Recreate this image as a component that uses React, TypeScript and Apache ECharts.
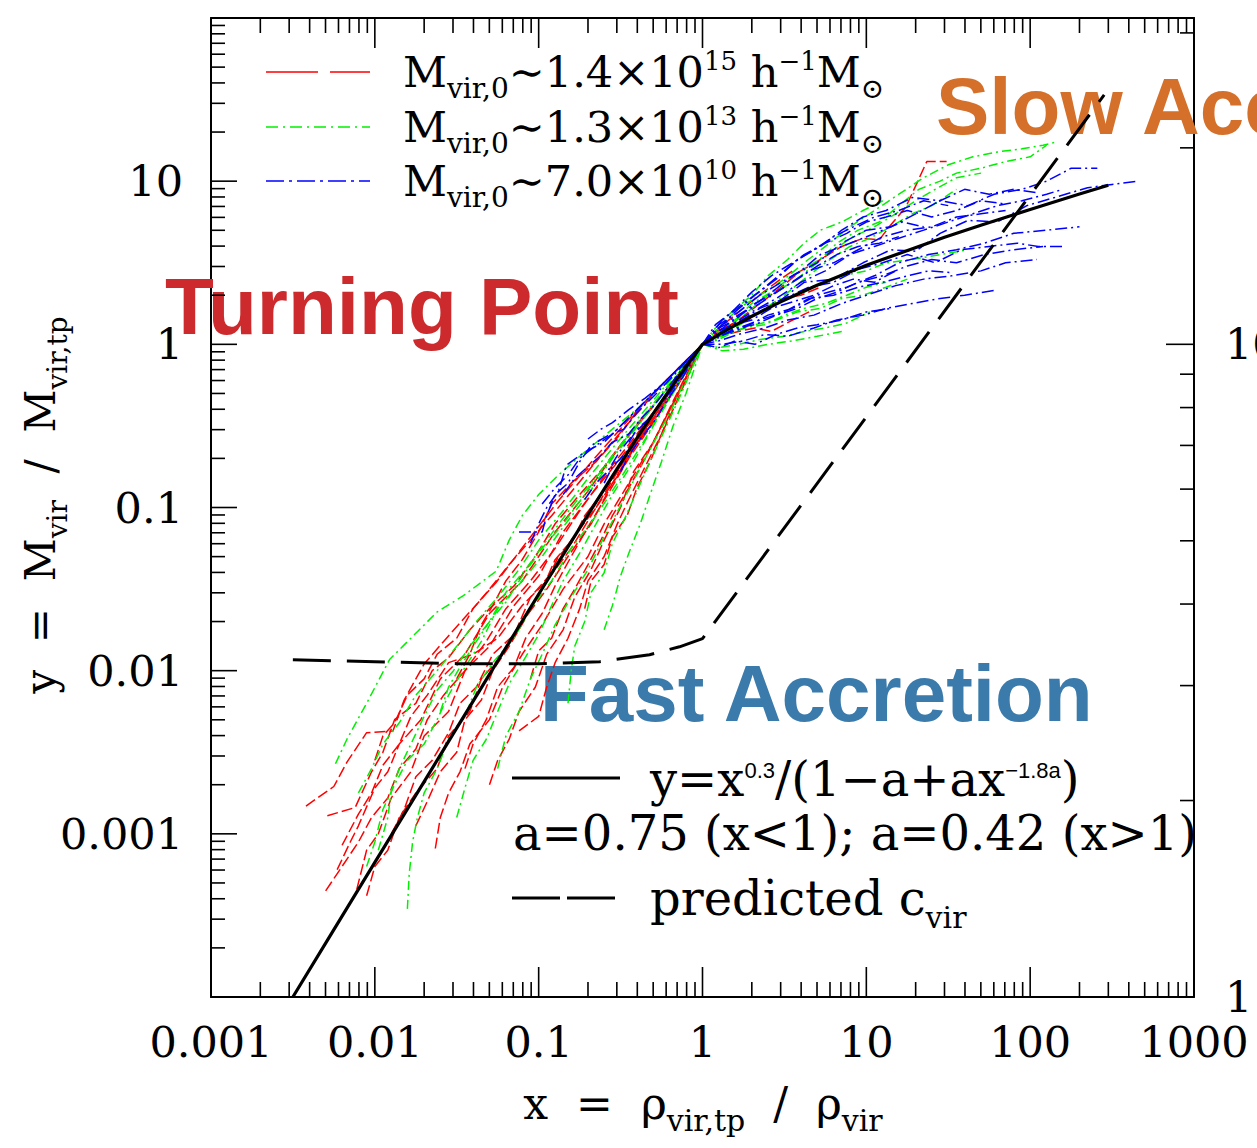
import React, { useEffect, useRef } from "react";
import * as echarts from "echarts";

// ---------- axes ----------
const X_MIN = 0.001;
const X_MAX = 1000;
const Y_MIN = 0.0001;
const Y_MAX = 100;
const R_MIN = 1;
const R_MAX = 31.62;
const X_TICK_LABELS = ["0.001", "0.01", "0.1", "1", "10", "100", "1000"];
const Y_TICK_LABELS = ["0.001", "0.01", "0.1", "1", "10"];
const R_TICK_LABELS = ["1", "10"];
const X_DECADES = [0.001, 0.01, 0.1, 1, 10, 100];
const Y_DECADES = [0.0001, 0.001, 0.01, 0.1, 1, 10];
const R_DECADES = [1, 10];
const MINOR_STEPS = [2, 3, 4, 5, 6, 7, 8, 9];

// ---------- fit curve y = x^0.3/(1-a+a x^-1.8a) ----------
const FIT_CURVE = [
  [0.00316, 0.0001], [0.005, 0.000213], [0.01, 0.000668], [0.02, 0.00209], [0.03, 0.00408],
  [0.05, 0.00946], [0.1, 0.0294], [0.15, 0.0568], [0.2, 0.0903], [0.3, 0.172], [0.4, 0.268],
  [0.5, 0.376], [0.7, 0.614], [0.85, 0.804], [1, 1], [1.3, 1.171], [1.6, 1.317], [2, 1.486],
  [3, 1.822], [5, 2.301], [10, 3.052], [30, 4.53], [50, 5.373], [100, 6.71], [200, 8.34], [300, 9.45],
];

// ---------- predicted c_vir (dashed) ----------
const PREDICTED_CVIR = [
  [0.00316, 0.01167], [0.01, 0.01135], [0.0316, 0.01104], [0.1, 0.01104], [0.236, 0.01135],
  [0.475, 0.01253], [0.724, 0.014], [1, 0.0157], [283, 33.8],
];

// ---------- M ~ 1.4e15 (red) ----------
const RED_1 = [[0.0038,0.00148],[0.00562,0.00195],[0.00676,0.00275],[0.00891,0.00417],[0.0129,0.00427],[0.0151,0.00661],[0.02,0.011],[0.0263,0.0151],[0.038,0.0229],[0.055,0.0347],[0.0832,0.0603],[0.132,0.11],[0.219,0.2],[0.355,0.347],[0.575,0.575],[1,1]];
const RED_2 = [[0.00589,0.000603],[0.00708,0.000891],[0.00794,0.00112],[0.01,0.00191],[0.012,0.0024],[0.0141,0.00355],[0.0191,0.00501],[0.0251,0.00891],[0.0355,0.0126],[0.0501,0.0224],[0.0794,0.0355],[0.126,0.0708],[0.2,0.126],[0.316,0.24],[0.501,0.417],[0.759,0.708],[1,1]];
const RED_3 = [[0.00513,0.00129],[0.00759,0.00145],[0.00955,0.0024],[0.0112,0.00316],[0.0132,0.00501],[0.0178,0.00631],[0.0224,0.01],[0.0282,0.012],[0.038,0.0178],[0.0501,0.024],[0.0708,0.0331],[0.0955,0.0501],[0.126,0.0794],[0.178,0.12],[0.251,0.178],[0.355,0.282],[0.525,0.447],[0.759,0.708],[1,1]];
const RED_4 = [[0.00776,0.000457],[0.00891,0.000794],[0.0105,0.001],[0.0126,0.00166],[0.0166,0.0024],[0.02,0.00398],[0.0282,0.00562],[0.0355,0.01],[0.0501,0.0141],[0.0708,0.0251],[0.1,0.038],[0.141,0.0708],[0.209,0.12],[0.316,0.2],[0.479,0.355],[0.708,0.631],[1,1]];
const RED_5 = [[0.0234,0.000813],[0.0251,0.00126],[0.0282,0.00178],[0.0331,0.0024],[0.038,0.00355],[0.0501,0.00501],[0.0603,0.00794],[0.0794,0.0126],[0.105,0.0191],[0.141,0.0316],[0.2,0.0501],[0.251,0.0794],[0.355,0.141],[0.501,0.251],[0.661,0.447],[0.832,0.708],[1,1]];
const RED_6 = [[0.0501,0.002],[0.0562,0.00282],[0.0661,0.0038],[0.0759,0.00562],[0.0955,0.00794],[0.112,0.0126],[0.141,0.0178],[0.166,0.0282],[0.209,0.0417],[0.251,0.0631],[0.316,0.1],[0.38,0.166],[0.501,0.251],[0.631,0.398],[0.794,0.631],[1,1]];
const RED_7 = [[0.0759,0.00427],[0.1,0.00525],[0.112,0.00794],[0.126,0.0112],[0.151,0.0158],[0.178,0.024],[0.2,0.0355],[0.251,0.0501],[0.302,0.0794],[0.355,0.112],[0.447,0.178],[0.562,0.282],[0.708,0.501],[1,1]];
const RED_8 = [[0.00891,0.000417],[0.01,0.000631],[0.012,0.000794],[0.0141,0.00126],[0.0178,0.00178],[0.024,0.00251],[0.0282,0.00398],[0.038,0.00562],[0.0447,0.00891],[0.0603,0.0126],[0.0794,0.02],[0.112,0.0316],[0.151,0.0501],[0.209,0.0794],[0.282,0.141],[0.398,0.251],[0.603,0.447],[1,1]];
const RED_9 = [[0.00631,0.000851],[0.00794,0.00132],[0.00955,0.00178],[0.0112,0.00263],[0.0141,0.00355],[0.0166,0.00525],[0.0209,0.00708],[0.0282,0.0112],[0.0398,0.0126],[0.0562,0.0158],[0.0794,0.0251],[0.112,0.0355],[0.158,0.0562],[0.224,0.1],[0.316,0.178],[0.479,0.316],[0.708,0.562],[1,1]];
const RED_10 = [[0.0178,0.00112],[0.0209,0.00158],[0.0251,0.0024],[0.0316,0.00316],[0.0355,0.00501],[0.0447,0.00661],[0.0525,0.01],[0.0661,0.0141],[0.0832,0.0209],[0.105,0.0316],[0.126,0.0479],[0.166,0.0661],[0.209,0.1],[0.282,0.151],[0.38,0.24],[0.525,0.38],[0.724,0.631],[1,1]];
const RED_11 = [[0.191,0.024],[0.209,0.0355],[0.251,0.0447],[0.282,0.0661],[0.347,0.0891],[0.398,0.132],[0.479,0.191],[0.562,0.282],[0.661,0.398],[0.794,0.603],[1,1]];
const RED_12 = [[0.0316,0.00891],[0.038,0.0126],[0.0447,0.0191],[0.0525,0.0251],[0.0631,0.0355],[0.0794,0.0479],[0.1,0.0708],[0.12,0.105],[0.158,0.141],[0.224,0.191],[0.316,0.282],[0.417,0.417],[0.631,0.631],[1,1]];
const RED_13 = [[0.0126,0.001],[0.0151,0.00141],[0.0178,0.00224],[0.0224,0.00282],[0.0282,0.00417],[0.0331,0.00631],[0.0417,0.00794],[0.0525,0.0126],[0.0708,0.0166],[0.0891,0.0282],[0.12,0.0398],[0.158,0.0631],[0.224,0.1],[0.316,0.166],[0.447,0.302],[0.661,0.525],[1,1]];
const RED_14 = [[0.0355,0.00251],[0.0398,0.00355],[0.0479,0.00501],[0.0562,0.00794],[0.0708,0.0105],[0.0832,0.0158],[0.105,0.0224],[0.126,0.0331],[0.158,0.0501],[0.2,0.0759],[0.263,0.12],[0.355,0.2],[0.501,0.331],[0.708,0.562],[1,1]];
const RED_15 = [[0.01,0.00282],[0.0112,0.00398],[0.0132,0.00479],[0.0158,0.00708],[0.02,0.00891],[0.024,0.0126],[0.0316,0.0158],[0.0398,0.024],[0.0501,0.0316],[0.0661,0.0447],[0.0891,0.0631],[0.12,0.0891],[0.166,0.132],[0.24,0.209],[0.355,0.331],[0.562,0.562],[1,1]];
const RED_16 = [[0.0891,0.00891],[0.1,0.0132],[0.12,0.0158],[0.141,0.024],[0.166,0.0316],[0.2,0.0447],[0.24,0.0631],[0.282,0.0891],[0.355,0.132],[0.447,0.2],[0.562,0.316],[0.759,0.562],[1,1]];
const RED_17 = [[0.00501,0.000447],[0.00631,0.000631],[0.00794,0.000891],[0.00955,0.00126],[0.012,0.00166],[0.0141,0.00251],[0.0178,0.00331],[0.0209,0.00501],[0.0263,0.00708],[0.0355,0.01],[0.0479,0.0151],[0.0631,0.024],[0.0891,0.0355],[0.126,0.0562],[0.178,0.0955],[0.263,0.166],[0.398,0.282],[0.631,0.525],[1,1]];
const RED_18 = [[0.112,0.0355],[0.132,0.0501],[0.158,0.0603],[0.191,0.0891],[0.24,0.12],[0.302,0.166],[0.38,0.251],[0.501,0.38],[0.661,0.562],[1,1]];
const RED_19 = [[1,1],[1.26,1.2],[1.66,1.41],[2.24,1.78],[3.02,2.24],[3.98,2.82],[5.25,3.31],[7.08,3.98],[9.55,4.47],[12,4.37],[13.8,5.25],[17.4,6.92],[20.4,9.77],[23.4,13.2],[30.9,13.2]];
const RED_20 = [[1,1],[1.2,1.2],[1.51,1.32],[1.91,1.41],[2.4,1.66],[3.16,1.91],[3.98,2],[5.25,2.24]];
const RED_21 = [[1,1],[1.26,1.12],[1.66,1.2],[2.09,1.26],[2.63,1.2],[3.55,1.41],[4.47,1.58]];
const RED_22 = [[1,1],[1.26,1.26],[1.58,1.51],[2.09,1.91],[2.82,2.4],[3.55,2.82]];

// ---------- M ~ 1.3e13 (green) ----------
const GREEN_1 = [[0.00575,0.00269],[0.00676,0.0038],[0.00891,0.00631],[0.0123,0.0117],[0.024,0.0229],[0.0347,0.0288],[0.055,0.0407],[0.0661,0.0631],[0.0794,0.0891],[0.1,0.12],[0.132,0.158],[0.191,0.219],[0.282,0.302],[0.417,0.417],[0.631,0.631],[1,1]];
const GREEN_2 = [[0.0158,0.000347],[0.0162,0.000562],[0.017,0.000891],[0.0182,0.00126],[0.02,0.00178],[0.024,0.00251],[0.0282,0.0038],[0.0355,0.00525],[0.0417,0.00794],[0.0525,0.0112],[0.0708,0.0158],[0.0891,0.024],[0.12,0.0355],[0.158,0.0562],[0.224,0.0891],[0.316,0.151],[0.447,0.263],[0.631,0.479],[1,1]];
const GREEN_3 = [[0.0105,0.000794],[0.012,0.00126],[0.0126,0.00182],[0.0141,0.00251],[0.0166,0.00355],[0.02,0.00525],[0.024,0.00759],[0.0302,0.01],[0.038,0.0141],[0.0501,0.02],[0.0631,0.0302],[0.0832,0.0417],[0.112,0.0631],[0.158,0.1],[0.24,0.166],[0.355,0.282],[0.562,0.501],[1,1]];
const GREEN_4 = [[0.151,0.00631],[0.158,0.01],[0.166,0.0141],[0.191,0.02],[0.209,0.0302],[0.251,0.0398],[0.282,0.0603],[0.331,0.0832],[0.398,0.126],[0.479,0.191],[0.603,0.316],[0.759,0.525],[1,1]];
const GREEN_5 = [[0.0316,0.00126],[0.0355,0.00191],[0.0398,0.00282],[0.0479,0.0038],[0.0562,0.00562],[0.0661,0.00832],[0.0794,0.0112],[0.1,0.0166],[0.12,0.0251],[0.141,0.0355],[0.178,0.0525],[0.224,0.0794],[0.282,0.12],[0.38,0.191],[0.501,0.316],[0.708,0.562],[1,1]];
const GREEN_6 = [[0.00891,0.000631],[0.01,0.000891],[0.0112,0.00141],[0.0132,0.002],[0.0158,0.00282],[0.02,0.00355],[0.024,0.00501],[0.0282,0.00708],[0.0355,0.0105],[0.0447,0.0151],[0.0562,0.024],[0.0794,0.0355],[0.105,0.0501],[0.141,0.0759],[0.2,0.12],[0.282,0.2],[0.417,0.331],[0.631,0.562],[1,1]];
const GREEN_7 = [[0.251,0.0178],[0.282,0.0251],[0.316,0.038],[0.355,0.0525],[0.417,0.0794],[0.479,0.12],[0.562,0.191],[0.661,0.316],[0.794,0.501],[1,1]];
const GREEN_8 = [[0.00794,0.00178],[0.00955,0.00251],[0.0112,0.00355],[0.0141,0.00479],[0.0178,0.00708],[0.024,0.01],[0.0316,0.0141],[0.0417,0.02],[0.0562,0.0282],[0.0759,0.0417],[0.1,0.0631],[0.141,0.0955],[0.2,0.151],[0.302,0.251],[0.447,0.398],[0.661,0.631],[1,1]];
const GREEN_9 = [[0.0562,0.00251],[0.0631,0.00398],[0.0759,0.00562],[0.0891,0.00891],[0.105,0.0126],[0.126,0.0191],[0.158,0.0282],[0.2,0.0417],[0.251,0.0661],[0.331,0.112],[0.447,0.2],[0.631,0.38],[1,1]];
const GREEN_10 = [[0.0251,0.00562],[0.0282,0.00794],[0.0331,0.0105],[0.0398,0.0141],[0.0501,0.02],[0.0631,0.0263],[0.0794,0.038],[0.105,0.0562],[0.141,0.0794],[0.191,0.12],[0.263,0.191],[0.38,0.302],[0.603,0.525],[1,1]];
const GREEN_11 = [[1,1],[1.26,1.26],[1.66,1.66],[2.24,2],[3.16,2.51],[4.17,3.16],[5.62,3.98],[7.94,5.25],[11.2,6.61],[15.8,8.32],[22.4,10.5],[31.6,12.6],[44.7,14.1],[63.1,15.1],[89.1,15.8],[120,16.6],[145,17.4]];
const GREEN_12 = [[1,1],[1.32,1.2],[1.78,1.51],[2.51,2],[3.55,2.4],[5.01,3.16],[6.61,4.17],[8.91,5.01],[12,5.62],[15.8,7.08],[20.9,8.91],[28.2,10],[35.5,11.2],[50.1,12],[70.8,13.2],[100,14.1],[126,16.6]];
const GREEN_13 = [[1,1],[1.26,1.12],[1.66,1.32],[2.24,1.58],[3.16,2],[4.17,2.51],[5.62,3.16],[7.94,3.98],[10.5,4.47],[14.1,5.25],[19.1,6.31],[25.1,7.08],[35.5,8.91]];
const GREEN_14 = [[1,1],[1.26,0.955],[1.66,1],[2.24,1.07],[3.16,1.12],[4.17,1.2],[5.62,1.26],[7.59,1.35],[10.5,1.58]];
const GREEN_15 = [[1,1],[1.32,0.912],[1.78,0.933],[2.51,1],[3.55,1.05],[5.01,1.12],[7.08,1.2]];
const GREEN_16 = [[1,1],[1.26,1.15],[1.58,1.26],[2.09,1.51],[2.82,1.78],[3.8,2],[5.01,2.29],[7.08,2.63],[10,2.82],[13.2,3.16],[19.1,3.31],[28.2,3.55],[41.7,3.8]];
const GREEN_17 = [[1,1],[1.2,1.26],[1.51,1.58],[2,2],[2.51,2.63],[3.31,3.31],[4.17,4.17],[5.25,5.01],[7.08,5.62],[9.55,6.61],[12.6,7.59]];
const GREEN_18 = [[1,1],[1.26,1.07],[1.58,1.2],[2.09,1.32],[2.82,1.41],[3.8,1.58],[5.25,1.66],[7.08,1.91],[9.55,2],[13.2,2.24],[17.8,2.51]];
const GREEN_19 = [[1,1],[1.26,1.2],[1.58,1.41],[2,1.78],[2.63,2.09],[3.55,2.63],[4.79,3.16],[6.31,3.8],[8.32,4.57],[11.2,5.25],[15.1,6.31],[20,7.59],[26.3,8.91],[35.5,10.5],[50.1,11.2]];
const GREEN_20 = [[1,1],[1.32,1.12],[1.78,1.26],[2.4,1.32],[3.16,1.51],[4.17,1.66],[5.62,1.78],[7.59,2],[10,2.24],[13.2,2.4]];

// ---------- M ~ 7.0e10 (blue) ----------
const BLUE_1 = [[0.0891,0.0603],[0.1,0.0794],[0.112,0.1],[0.132,0.126],[0.148,0.182],[0.191,0.219],[0.251,0.251],[0.316,0.316],[0.38,0.38],[0.501,0.501],[0.708,0.708],[1,1]];
const BLUE_2 = [[0.0759,0.0708],[0.105,0.0708],[0.112,0.0891],[0.126,0.12],[0.151,0.141],[0.178,0.191],[0.209,0.24],[0.263,0.275],[0.331,0.302],[0.398,0.38],[0.525,0.501],[0.724,0.708],[1,1]];
const BLUE_3 = [[0.141,0.12],[0.166,0.151],[0.2,0.178],[0.24,0.209],[0.282,0.251],[0.355,0.282],[0.417,0.347],[0.501,0.417],[0.631,0.562],[0.794,0.759],[1,1]];
const BLUE_4 = [[0.251,0.141],[0.282,0.178],[0.331,0.209],[0.38,0.251],[0.447,0.316],[0.525,0.398],[0.631,0.501],[0.794,0.708],[1,1]];
const BLUE_5 = [[0.355,0.251],[0.398,0.302],[0.479,0.355],[0.562,0.447],[0.661,0.562],[0.794,0.708],[1,1]];
const BLUE_6 = [[0.2,0.263],[0.24,0.302],[0.282,0.331],[0.355,0.398],[0.447,0.468],[0.562,0.562],[0.759,0.759],[1,1]];
const BLUE_7 = [[0.105,0.105],[0.126,0.132],[0.151,0.158],[0.178,0.2],[0.224,0.24],[0.282,0.282],[0.355,0.355],[0.447,0.447],[0.603,0.603],[0.794,0.794],[1,1]];
const BLUE_8 = [[0.191,0.112],[0.224,0.141],[0.263,0.166],[0.316,0.224],[0.38,0.282],[0.479,0.355],[0.603,0.479],[0.759,0.661],[1,1]];
const BLUE_9 = [[0.316,0.166],[0.355,0.209],[0.417,0.263],[0.501,0.331],[0.603,0.447],[0.759,0.631],[1,1]];
const BLUE_10 = [[1,1],[1.41,1.26],[2,1.51],[2.82,1.78],[4.17,2.4],[6.31,2.51],[9.55,3.16],[14.1,3.8],[20,3.72],[28.2,4.79],[41.7,5.75],[63.1,5.62],[95.5,7.08],[141,7.94],[224,9.12],[316,9.55],[457,10]];
const BLUE_11 = [[1,1],[1.32,1.32],[1.78,1.58],[2.51,2],[3.55,2.63],[5.01,3.16],[7.08,4.17],[10,5.01],[14.1,5.25],[20,6.31],[28.2,7.59],[41.7,7.08],[60.3,8.32],[89.1,8.91],[126,10],[178,12],[257,12]];
const BLUE_12 = [[1,1],[1.26,1.12],[1.78,1.26],[2.51,1.51],[3.55,1.66],[5.01,2],[7.59,2.24],[11.2,2.63],[15.8,3.16],[24,3.55],[35.5,3.8],[52.5,4.17],[79.4,4.79],[126,5.01],[200,5.25]];
const BLUE_13 = [[1,1],[1.26,1.05],[1.66,1.15],[2.4,1.26],[3.31,1.41],[4.79,1.51],[7.08,1.78],[10,2],[15.1,2.29],[22.4,2.51],[33.1,2.63],[50.1,2.82],[70.8,3.16],[110,3.31]];
const BLUE_14 = [[1,1],[1.26,1.26],[1.58,1.58],[2.09,2],[2.82,2.51],[3.8,3.31],[5.25,3.98],[7.08,5.01],[9.55,6.03],[13.2,6.61],[19.1,7.94],[28.2,7.59],[39.8,8.91],[56.2,8.32],[79.4,8.91],[110,8.51]];
const BLUE_15 = [[1,1],[1.32,1],[1.78,1.05],[2.4,1.15],[3.31,1.12],[4.79,1.26],[6.61,1.41],[9.55,1.51],[13.2,1.66],[19.1,1.78],[28.2,1.91],[39.8,2],[60.3,2.14]];
const BLUE_16 = [[1,1],[1.2,1.2],[1.58,1.32],[2.24,1.66],[3.16,1.91],[4.47,2.24],[6.31,2.4],[8.91,2.88],[12.6,3.16],[17.8,3.55],[26.3,3.16],[38,3.8],[56.2,3.98],[83.2,4.17],[112,3.98],[158,3.98]];
const BLUE_17 = [[1,1],[1.26,1.2],[1.66,1.51],[2.24,1.78],[3.16,2.24],[4.47,2.82],[6.31,3.16],[8.91,3.8],[12.6,4.57],[17.8,5.01],[25.1,5.25],[35.5,6.03],[50.1,6.31],[70.8,6.61]];
const BLUE_18 = [[1,1],[1.26,1.12],[1.66,1.26],[2.24,1.41],[3.16,1.58],[4.47,1.91],[6.31,2],[8.91,2.24],[12.6,2.4],[17.8,2.63],[24,2.82],[33.1,2.75]];
const BLUE_19 = [[1,1],[1.26,1.26],[1.58,1.41],[2.09,1.78],[2.82,2.09],[3.8,2.51],[5.01,3.02],[6.61,3.55],[8.91,3.98],[12,4.17],[15.8,4.57]];
const BLUE_20 = [[1,1],[1.26,0.955],[1.58,1.05],[2.09,1],[2.82,1.15],[3.8,1.26],[5.01,1.32],[7.08,1.41],[10,1.58],[14.1,1.66]];
const BLUE_21 = [[1,1],[1.2,1.32],[1.51,1.58],[2,2.09],[2.63,2.63],[3.55,3.16],[4.79,3.8],[6.31,4.57],[8.32,5.25],[11.2,6.03],[15.8,6.61],[22.4,7.59],[31.6,7.08]];
const BLUE_22 = [[1,1],[1.32,1.41],[1.78,1.78],[2.4,2.24],[3.16,2.82],[4.17,3.55],[5.62,4.17],[7.59,4.79],[10,5.62],[13.2,6.03],[17.8,6.61],[25.1,6.03],[35.5,6.61],[50.1,7.59],[70.8,7.24]];
const BLUE_23 = [[1,1],[1.26,1.1],[1.58,1.26],[2.09,1.32],[2.82,1.51],[3.8,1.66],[5.01,1.91],[6.61,2.09],[8.91,2.4],[12.6,2.63],[17.8,3.02],[25.1,3.31],[35.5,3.16],[52.5,3.55],[79.4,3.8],[120,3.98]];
const BLUE_24 = [[1,1],[1.26,1.32],[1.66,1.58],[2.24,2],[3.02,2.4],[3.98,2.82],[5.25,3.55],[7.08,3.98],[9.55,4.47],[12.6,5.01],[16.6,5.62],[22.4,5.25]];
const BLUE_25 = [[1,1],[1.26,1.15],[1.58,1.32],[2,1.41],[2.63,1.66],[3.55,1.82],[4.79,2],[6.31,2.29],[8.32,2.51],[11.2,2.4],[15.1,2.82]];
const BLUE_26 = [[1,1],[1.41,1.26],[2,1.58],[2.82,1.91],[3.98,2.4],[5.62,2.82],[7.94,3.55],[11.2,3.98],[15.8,4.47],[22.4,5.01],[31.6,5.62],[44.7,6.31],[63.1,7.08],[89.1,7.59],[126,8.32],[158,8.91]];

const RED_TRACKS = [RED_1, RED_2, RED_3, RED_4, RED_5, RED_6, RED_7, RED_8, RED_9, RED_10, RED_11, RED_12, RED_13, RED_14, RED_15, RED_16, RED_17, RED_18, RED_19, RED_20, RED_21, RED_22];
const GREEN_TRACKS = [GREEN_1, GREEN_2, GREEN_3, GREEN_4, GREEN_5, GREEN_6, GREEN_7, GREEN_8, GREEN_9, GREEN_10, GREEN_11, GREEN_12, GREEN_13, GREEN_14, GREEN_15, GREEN_16, GREEN_17, GREEN_18, GREEN_19, GREEN_20];
const BLUE_TRACKS = [BLUE_1, BLUE_2, BLUE_3, BLUE_4, BLUE_5, BLUE_6, BLUE_7, BLUE_8, BLUE_9, BLUE_10, BLUE_11, BLUE_12, BLUE_13, BLUE_14, BLUE_15, BLUE_16, BLUE_17, BLUE_18, BLUE_19, BLUE_20, BLUE_21, BLUE_22, BLUE_23, BLUE_24, BLUE_25, BLUE_26];

// ---------- helpers ----------
const SERIF = "'DejaVu Serif', 'Liberation Serif', serif";
const SANS = "'Liberation Sans', Arial, sans-serif";

function decadeLabel(v: number): string {
  const l = Math.log10(v);
  const e = Math.round(l);
  if (Math.abs(l - e) > 1e-6) return "";
  return e < 0 ? Math.pow(10, e).toFixed(-e) : String(Math.round(Math.pow(10, e)));
}
const labelFrom = (list: string[]) => (v: number) => {
  const s = decadeLabel(v);
  return list.indexOf(s) >= 0 ? s : "";
};

function tickData(decades: number[], lo: number, hi: number, major: number, minor: number, side: "x" | "y") {
  const out: number[][] = [];
  decades.forEach((d) => {
    if (d >= lo * 0.999 && d <= hi * 1.001) out.push(side === "x" ? [d, 1, major] : [1, d, major]);
    MINOR_STEPS.forEach((k) => {
      const v = Number((k * d).toPrecision(3));
      if (v > lo && v < hi) out.push(side === "x" ? [v, 1, minor] : [1, v, minor]);
    });
  });
  const top = decades[decades.length - 1] * 10;
  if (top <= hi * 1.001) out.push(side === "x" ? [top, 1, major] : [1, top, major]);
  return out;
}

const TICK_STYLE = { stroke: "#000", lineWidth: 1.6 };

function makeOption() {
  const trackSeries = (data: number[][], color: string, dash: number[]) => ({
    type: "line",
    data,
    xAxisIndex: 0,
    yAxisIndex: 0,
    symbol: "none",
    showSymbol: false,
    silent: true,
    z: 3,
    lineStyle: { color, width: 1.5, type: dash },
  });

  const series: any[] = [];
  RED_TRACKS.forEach((t) => series.push(trackSeries(t, "#ff0000", [11, 4])));
  GREEN_TRACKS.forEach((t) => series.push(trackSeries(t, "#00f000", [9, 4, 2, 4])));
  BLUE_TRACKS.forEach((t) => series.push(trackSeries(t, "#0000ff", [12, 4, 2, 4])));

  series.push({
    type: "line", data: PREDICTED_CVIR, symbol: "none", silent: true, z: 4,
    lineStyle: { color: "#000", width: 3, type: [38, 16] },
  });
  series.push({
    type: "line", data: FIT_CURVE, symbol: "none", silent: true, z: 5, smooth: false,
    lineStyle: { color: "#000", width: 3.2, type: "solid" },
  });

  // ticks (drawn through the axes' own scales)
  series.push({
    type: "custom", xAxisIndex: 0, yAxisIndex: 0, silent: true, clip: false, z: 6,
    data: tickData(X_DECADES, X_MIN, X_MAX, 30, 15, "x"),
    renderItem: (params: any, api: any) => {
      const cs = params.coordSys;
      const px = api.coord([api.value(0), 1])[0];
      const len = api.value(2);
      const b = cs.y + cs.height;
      const t = cs.y;
      return {
        type: "group",
        children: [
          { type: "line", shape: { x1: px, y1: b, x2: px, y2: b - len }, style: TICK_STYLE },
          { type: "line", shape: { x1: px, y1: t, x2: px, y2: t + len }, style: TICK_STYLE },
        ],
      };
    },
  });
  series.push({
    type: "custom", xAxisIndex: 0, yAxisIndex: 0, silent: true, clip: false, z: 6,
    data: tickData(Y_DECADES, Y_MIN, Y_MAX, 26, 14, "y"),
    renderItem: (params: any, api: any) => {
      const cs = params.coordSys;
      const py = api.coord([1, api.value(1)])[1];
      const len = api.value(2);
      return { type: "line", shape: { x1: cs.x, y1: py, x2: cs.x + len, y2: py }, style: TICK_STYLE };
    },
  });
  series.push({
    type: "custom", xAxisIndex: 0, yAxisIndex: 1, silent: true, clip: false, z: 6,
    data: tickData(R_DECADES, R_MIN, R_MAX, 28, 14, "y"),
    renderItem: (params: any, api: any) => {
      const cs = params.coordSys;
      const py = api.coord([1, api.value(1)])[1];
      const len = api.value(2);
      const r = cs.x + cs.width;
      return { type: "line", shape: { x1: r, y1: py, x2: r - len, y2: py }, style: TICK_STYLE };
    },
  });

  const axisLine = { show: true, onZero: false, lineStyle: { color: "#000", width: 2 } };
  const axisLabelBase = { fontFamily: SERIF, fontSize: 43, color: "#000" };

  const richMain = (fs: number, lh: number) => ({ fontSize: fs, fontFamily: SERIF, lineHeight: lh, fill: "#000", color: "#000" });
  const richSub = (fs: number, lh: number) => ({ fontSize: fs, fontFamily: SERIF, lineHeight: lh, verticalAlign: "bottom", fill: "#000", color: "#000" });
  const richSup = (fs: number, lh: number, pad: number, fam = SERIF) => ({
    fontSize: fs, fontFamily: fam, lineHeight: lh, verticalAlign: "top", padding: [pad, 0, 0, 0], fill: "#000", color: "#000",
  });

  const legendRich = { m: richMain(43, 60), s: richSub(28, 30), u: richSup(26, 30, 6) };
  const legendRow = (y: number, mass: string, exp: string) => ({
    type: "text", x: 403, y, z: 10,
    style: {
      text: `{m|M}{s|vir,0}{m|∼${mass}×10}{u|${exp}}{m| h}{u|−1}{m|M}{s|⊙}`,
      rich: legendRich, align: "left", textAlign: "left", verticalAlign: "middle", textVerticalAlign: "middle",
    },
  });
  const legendLine = (y: number, color: string, dash: number[]) => ({
    type: "line", z: 10, shape: { x1: 266, y1: y, x2: 370, y2: y },
    style: { stroke: color, lineWidth: 1.6, lineDash: dash },
  });

  const bigText = (text: string, x: number, y: number, color: string) => ({
    type: "text", x, y, z: 1,
    style: {
      text, fill: color, fontSize: 80, fontWeight: "bold", fontFamily: SANS,
      align: "left", textAlign: "left", verticalAlign: "middle", textVerticalAlign: "middle",
    },
  });

  const fitRich = { m: richMain(48, 68), u: richSup(22, 26, 14, SANS), s: richSub(30, 35) };

  const graphic = [
    legendLine(72, "#ff0000", [52, 12]),
    legendLine(127, "#00f000", [12, 5, 2, 5]),
    legendLine(181, "#0000ff", [18, 5, 3, 5]),
    legendRow(72, "1.4", "15"),
    legendRow(127, "1.3", "13"),
    legendRow(181, "7.0", "10"),
    bigText("Turning Point", 165, 306, "#cc2a2c"),
    bigText("Fast Accretion", 540, 693, "#3b7bab"),
    bigText("Slow Accretion", 936, 106, "#d5702b"),
    { type: "line", z: 10, shape: { x1: 512, y1: 778, x2: 620, y2: 778 }, style: { stroke: "#000", lineWidth: 3 } },
    { type: "line", z: 10, shape: { x1: 512, y1: 898, x2: 560, y2: 898 }, style: { stroke: "#000", lineWidth: 3 } },
    { type: "line", z: 10, shape: { x1: 567, y1: 898, x2: 615, y2: 898 }, style: { stroke: "#000", lineWidth: 3 } },
    {
      type: "text", x: 650, y: 779, z: 10,
      style: { text: "{m|y=x}{u|0.3}{m|/(1−a+ax}{u|−1.8a}{m|)}", rich: fitRich, align: "left", textAlign: "left", verticalAlign: "middle", textVerticalAlign: "middle" },
    },
    {
      type: "text", x: 513, y: 833, z: 10,
      style: { text: "{m|a=0.75 (x<1); a=0.42 (x>1)}", rich: fitRich, align: "left", textAlign: "left", verticalAlign: "middle", textVerticalAlign: "middle" },
    },
    {
      type: "text", x: 650, y: 898, z: 10,
      style: { text: "{m|predicted c}{s|vir}", rich: fitRich, align: "left", textAlign: "left", verticalAlign: "middle", textVerticalAlign: "middle" },
    },
    {
      type: "text", x: 703, y: 1103, z: 10,
      style: {
        text: "{m|x  =  ρ}{s|vir,tp}{m|  /  ρ}{s|vir}",
        rich: { m: richMain(44, 64), s: richSub(30, 28) },
        align: "center", textAlign: "center", verticalAlign: "middle", textVerticalAlign: "middle",
      },
    },
    {
      type: "text", x: 40, y: 505, z: 10, rotation: Math.PI / 2,
      style: {
        text: "{m|y  =  M}{s|vir}{m|  /  M}{s|vir,tp}",
        rich: { m: richMain(42, 62), s: richSub(28, 28) },
        align: "center", textAlign: "center", verticalAlign: "middle", textVerticalAlign: "middle",
      },
    },
  ];

  return {
    animation: false,
    backgroundColor: "#ffffff",
    grid: { left: 211, top: 18, width: 983, height: 979, containLabel: false, outerBoundsMode: "none" },
    xAxis: [
      {
        type: "log", logBase: 10, min: X_MIN, max: X_MAX, position: "bottom",
        axisLine, axisTick: { show: false }, minorTick: { show: false }, splitLine: { show: false },
        axisLabel: { ...axisLabelBase, margin: 23, formatter: labelFrom(X_TICK_LABELS) },
      },
      {
        type: "log", logBase: 10, min: X_MIN, max: X_MAX, position: "top",
        axisLine, axisTick: { show: false }, splitLine: { show: false }, axisLabel: { show: false },
      },
    ],
    yAxis: [
      {
        type: "log", logBase: 10, min: Y_MIN, max: Y_MAX, position: "left",
        axisLine, axisTick: { show: false }, minorTick: { show: false }, splitLine: { show: false },
        axisLabel: { ...axisLabelBase, margin: 28, formatter: labelFrom(Y_TICK_LABELS) },
      },
      {
        type: "log", logBase: 10, min: R_MIN, max: R_MAX, position: "right",
        axisLine, axisTick: { show: false }, splitLine: { show: false },
        axisLabel: { ...axisLabelBase, margin: 31, formatter: labelFrom(R_TICK_LABELS) },
      },
    ],
    tooltip: { show: false },
    series,
    graphic: { elements: graphic },
  };
}

export default function App() {
  const ref = useRef<HTMLDivElement>(null);
  useEffect(() => {
    if (!ref.current) return;
    document.body.style.margin = "0";
    const chart = echarts.init(ref.current, null, { renderer: "svg" });
    chart.setOption(makeOption() as any);
    return () => chart.dispose();
  }, []);
  return <div ref={ref} style={{ width: 1257, height: 1148, background: "#fff" }} />;
}
